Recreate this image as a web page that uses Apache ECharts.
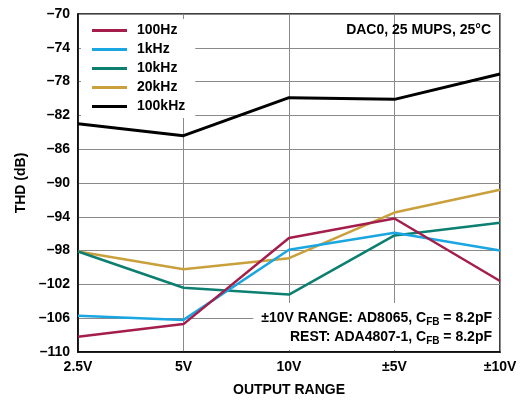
<!DOCTYPE html>
<html>
<head>
<meta charset="utf-8">
<script src="https://cdn.jsdelivr.net/npm/echarts@6/dist/echarts.min.js"></script>
<style>
  html, body { margin: 0; padding: 0; background: #fff; }
  #chart { width: 527px; height: 403px; }
</style>
</head>
<body>
<div id="chart"></div>
<script>
// Output ranges on the x axis
const ranges = ['2.5V', '5V', '10V', '±5V', '±10V'];

// THD (dB) per tone frequency
const thd100Hz = [-108.2, -106.7, -96.5, -94.2, -101.6];
const thd1kHz = [-105.7, -106.2, -97.9, -95.9, -98.0];
const thd10kHz = [-98.1, -102.4, -103.2, -96.2, -94.7];
const thd20kHz = [-98.1, -100.2, -98.9, -93.5, -90.8];
const thd100kHz = [-83.0, -84.4, -79.9, -80.1, -77.1];

const seriesNames = ['100Hz', '1kHz', '10kHz', '20kHz', '100kHz'];
const seriesData = [thd100Hz, thd1kHz, thd10kHz, thd20kHz, thd100kHz];
const seriesColors = ['#A51E4B', '#1AA6E0', '#0C7F70', '#C9A03C', '#000000'];
const seriesWidths = [2.5, 2.5, 2.5, 2.5, 3];

const FONT = '"Liberation Sans", Arial, sans-serif';
const chart = echarts.init(document.getElementById('chart'), null, { renderer: 'canvas' });

// draw 100Hz last so it sits on top
const order = [4, 3, 2, 1, 0];
const series = order.map(i => ({
  name: seriesNames[i],
  type: 'line',
  data: seriesData[i],
  symbol: 'none',
  color: seriesColors[i],
  lineStyle: { color: seriesColors[i], width: seriesWidths[i] },
  z: 3 + (4 - i)
}));

const boldText = { color: '#000', fontWeight: 'bold', fontSize: 14, fontFamily: FONT };

chart.setOption({
  animation: false,
  backgroundColor: '#fff',
  textStyle: { fontFamily: FONT },
  grid: {
    left: 78, top: 14, right: 27, bottom: 51,
    show: true, borderColor: '#000', borderWidth: 1.5, backgroundColor: 'transparent'
  },
  xAxis: {
    type: 'category',
    data: ranges,
    boundaryGap: false,
    axisLine: { lineStyle: { color: '#000', width: 1.5 } },
    axisTick: { show: false },
    axisLabel: Object.assign({ margin: 8 }, boldText),
    splitLine: { show: true, lineStyle: { color: '#8a8a8a', width: 1 } },
    name: 'OUTPUT RANGE',
    nameLocation: 'middle',
    nameGap: 31,
    nameTextStyle: boldText
  },
  yAxis: {
    type: 'value',
    min: -110, max: -70, interval: 4,
    axisLine: { show: true, lineStyle: { color: '#000', width: 1.5 } },
    axisTick: { show: false },
    axisLabel: Object.assign({ margin: 8, formatter: v => String(v).replace('-', '\u2013') }, boldText),
    splitLine: { show: true, lineStyle: { color: '#8a8a8a', width: 1 } },
    name: 'THD (dB)',
    nameLocation: 'middle',
    nameGap: 50,
    nameTextStyle: boldText
  },
  legend: {
    data: seriesNames.map((n, i) => ({ name: n, itemStyle: { color: seriesColors[i] } })),
    orient: 'vertical',
    left: 81, top: 19,
    padding: [4, 10, 4, 11],
    backgroundColor: '#fff',
    icon: 'rect',
    itemWidth: 35,
    itemHeight: 3,
    itemGap: 4,
    textStyle: Object.assign({ lineHeight: 15, padding: [0, 0, 0, 5] }, boldText)
  },
  title: {
    text: 'DAC0, 25 MUPS, 25°C',
    right: 36, top: 23,
    padding: 0,
    textStyle: boldText
  },
  graphic: [
    {
      type: 'text',
      right: 29,
      bottom: 53,
      z: 100,
      style: {
        text: '{a|±10V RANGE: AD8065, C}{s|FB}{a| = 8.2pF}\n{a|REST: ADA4807-1, C}{s|FB}{a| = 8.2pF}',
        align: 'right',
        backgroundColor: '#fff',
        padding: [6, 6, 3, 8],
        rich: {
          a: Object.assign({ lineHeight: 19, align: 'right' }, boldText),
          s: { color: '#000', fontWeight: 'bold', fontSize: 10, fontFamily: FONT, lineHeight: 19, align: 'right', padding: [7, 0, 0, 0] }
        }
      }
    }
  ],
  series: series
});
</script>
</body>
</html>
